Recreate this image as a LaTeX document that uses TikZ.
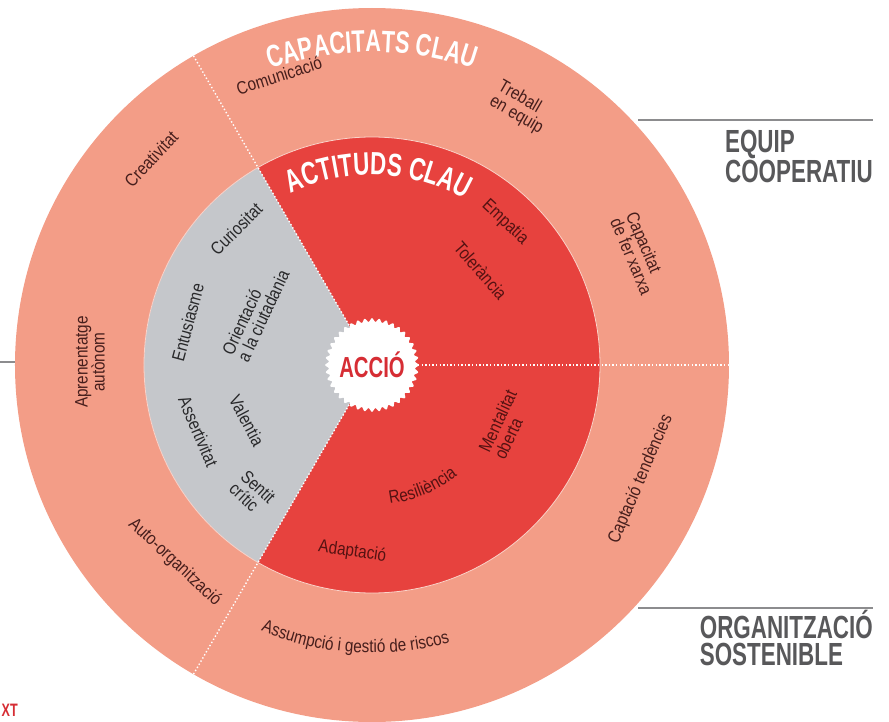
\documentclass[tikz,border=0pt]{standalone}
\usepackage{fontspec}
\setmainfont{Liberation Sans}
\newfontfamily\labelfont[FakeStretch=0.85]{Liberation Sans}
\newfontfamily\titlefont[FakeStretch=0.7]{Liberation Sans}
\usetikzlibrary{%
  decorations.text
}

\definecolor{ringsalmon}{RGB}{243,157,135}
\definecolor{corered}{RGB}{231,66,62}
\definecolor{coregray}{RGB}{197,199,203}
\definecolor{ringink}{RGB}{70,30,28}
\definecolor{redink}{RGB}{85,18,18}
\definecolor{grayink}{RGB}{40,40,42}
\definecolor{accioRed}{RGB}{214,45,52}
\definecolor{sideink}{RGB}{88,88,90}
\definecolor{sidegray}{RGB}{140,140,142}

\begin{document}
\begin{tikzpicture}[x=1pt, y=1pt,
    ringtext/.style={font=\labelfont\fontsize{18}{17}\selectfont,
      text=ringink, inner sep=0pt},
    redtext/.style={ringtext, text=redink},
    graytext/.style={ringtext, text=grayink},
    dotline/.style={white, line width=1.4pt, dash pattern=on 1.4pt off 2.2pt},
    sideline/.style={sidegray, line width=1.5pt},
    sidetext/.style={font=\titlefont\bfseries\fontsize{32}{27}\selectfont,
      text=sideink, align=left, inner sep=0pt}]

  \clip (-372,-356) rectangle (517,365);

  \fill[ringsalmon] (0,0) circle[radius=357];
  \fill[corered] (0,0) circle[radius=228];
  \fill[coregray] (0,0) -- (120:228)
    arc[start angle=120, end angle=240, radius=228] -- cycle;
  \draw[white!55!ringsalmon, line width=0.8pt] (0,0) circle[radius=228];

  \foreach \a in {0,120,240}
    \draw[dotline] (\a:46) -- (\a:357);

  \fill[white] plot[domain=0:360, samples=321, variable=\t]
    (\t:{45+1.8*cos(40*\t)}) -- cycle;
  \node[font=\titlefont\bfseries\fontsize{29}{29}\selectfont, text=accioRed]
    (accio) at (0,0) {ACCIÓ};

  % titols corbats
  \path[decorate, decoration={text along path, text align=center,
      text color=white,
      text={|\titlefont\bfseries\fontsize{31}{31}\selectfont|CAPACITATS CLAU}}]
    (150:313) arc[start angle=150, end angle=30, radius=313];
  \path[decorate, decoration={text along path, text align=center,
      text color=white,
      text={|\titlefont\bfseries\fontsize{32}{32}\selectfont|ACTITUDS CLAU}}]
    (146:190) arc[start angle=146, end angle=30, radius=190];

  % capacitats
  \node[ringtext, rotate=17.8] (comunicacio) at (107.8:304) {Comunicació};
  \node[ringtext, rotate=-30, align=left] (treball) at (60:297) {Treball\\en equip};
  \node[ringtext, rotate=-67, align=left] (xarxa) at (22.7:290) {Capacitat\\de fer xarxa};
  \node[ringtext, rotate=67] (captacio) at (-23:292) {Captació tendències};
  \path[decorate, decoration={text along path, text align=center,
      text color=ringink,
      text={|\labelfont\fontsize{18}{17}\selectfont|Assumpció i gestió de riscos}}]
    (-133.5:288) arc[start angle=-133.5, end angle=-53.5, radius=288];
  \node[ringtext, rotate=-43] (autoorg) at (-135:279) {Auto-organització};
  \node[ringtext, rotate=90, align=center] (aprenentatge) at (179.4:282) {Aprenentatge\\autònom};
  \node[ringtext, rotate=47] (creativitat) at (137:302) {Creativitat};

  % actituds
  \node[redtext, rotate=-43] (empatia) at (47:195) {Empatia};
  \node[redtext, rotate=-49] (tolerancia) at (41:144) {Tolerància};
  \node[redtext, rotate=65, align=left] (mentalitat) at (-24:146) {Mentalitat\\oberta};
  \path[decorate, decoration={text along path, text align=center,
      text color=redink,
      text={|\labelfont\fontsize{18}{17}\selectfont|Resiliència}}]
    (-100:140) arc[start angle=-100, end angle=-35, radius=140];
  \node[redtext, rotate=-8] (adaptacio) at (-96:188) {Adaptació};

  \node[graytext, rotate=45] (curiositat) at (135:192) {Curiositat};
  \node[graytext, rotate=65, align=left] (orientacio) at (155.6:128) {Orientació\\a la ciutadania};
  \node[graytext, rotate=75] (entusiasme) at (167:189) {Entusiasme};
  \node[graytext, rotate=-62] (valentia) at (204:137) {Valentia};
  \node[graytext, rotate=-67] (assertivitat) at (201:186) {Assertivitat};
  \node[graytext, rotate=-43, align=left] (sentit) at (227:175) {Sentit\\crític};

  % rètols laterals
  \coordinate (equipA) at (266,245);
  \coordinate (equipB) at (501,245);
  \coordinate (orgA) at (266,-243);
  \coordinate (orgB) at (501,-243);
  \coordinate (leftA) at (-372,3);
  \coordinate (leftB) at (-357,3);
  \draw[sideline] (equipA) -- (equipB);
  \draw[sideline] (orgA) -- (orgB);
  \draw[sideline] (leftA) -- (leftB);
  \node[sidetext, anchor=north east] (equip) at (equipB |- 0,235) {EQUIP\\COOPERATIU};
  \node[sidetext, anchor=north east] (organitzacio) at (orgB |- 0,-245) {ORGANITZACIÓ\\SOSTENIBLE};

  \node[font=\titlefont\bfseries\fontsize{18}{18}\selectfont, text=accioRed,
    anchor=base west, inner sep=0pt] (context) at (-370.5,-351) {XT};
\end{tikzpicture}
\end{document}
